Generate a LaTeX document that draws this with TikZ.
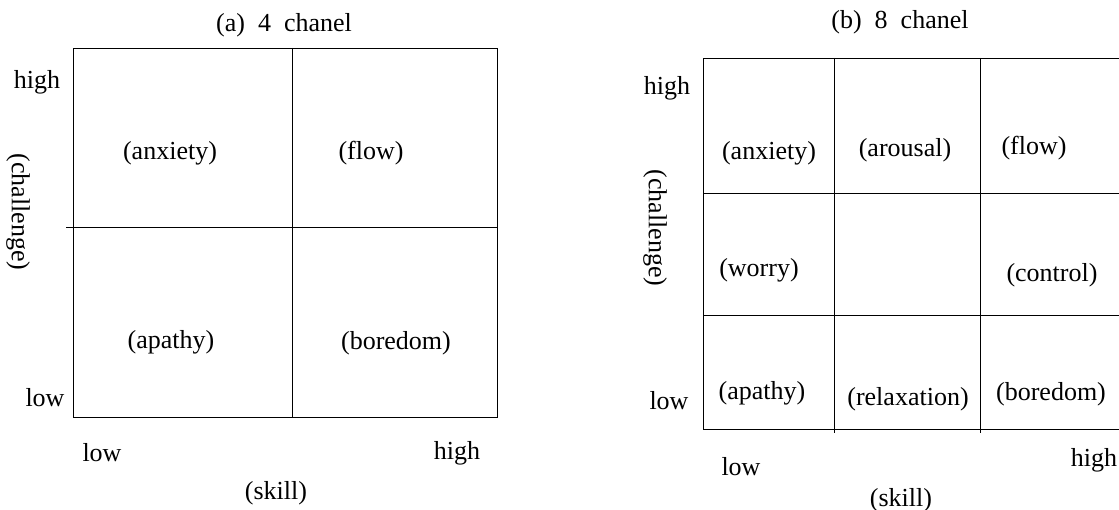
\documentclass[tikz,border=0pt]{standalone}
\usepackage{fontspec}
\setmainfont{Liberation Serif}
\begin{document}
\begin{tikzpicture}[x=1pt,y=-1pt,
  lbl/.style={inner sep=0pt,font=\fontsize{26}{29}\selectfont},
  gridline/.style={line width=0.9pt,black}]
\useasboundingbox (0,0) rectangle (1119,510);
% ---------- (a) 4 chanel ----------
\draw[gridline] (73,48) rectangle (497,417);
\draw[gridline] (292,48) -- (292,417);
\draw[gridline] (66,227) -- (497,227);
\node[lbl] (ta) at (284,25) {(a)\ \ 4\ \ chanel};
\node[lbl] (ahigh) at (37,82) {high};
\node[lbl] (alow) at (45,398) {low};
\node[lbl,rotate=-90] (achal) at (18,212) {(challenge)};
\node[lbl] (aanx) at (170,153) {(anxiety)};
\node[lbl] (aflow) at (371,153) {(flow)};
\node[lbl] (aapa) at (171,342) {(apathy)};
\node[lbl] (abor) at (396,343) {(boredom)};
\node[lbl] (axlow) at (102,453) {low};
\node[lbl] (axhigh) at (457,453) {high};
\node[lbl] (askill) at (276,493) {(skill)};
% ---------- (b) 8 chanel ----------
\draw[gridline] (1119,58) -- (703,58) -- (703,429) -- (1119,429);
\draw[gridline] (834,58) -- (834,433);
\draw[gridline] (980,58) -- (980,433);
\draw[gridline] (703,193) -- (1119,193);
\draw[gridline] (703,315) -- (1119,315);
\node[lbl] (tb) at (900,22) {(b)\ \ 8\ \ chanel};
\node[lbl] (bhigh) at (667,88) {high};
\node[lbl] (blow) at (669,401) {low};
\node[lbl,rotate=-90] (bchal) at (655,228) {(challenge)};
\node[lbl] (banx) at (769,153) {(anxiety)};
\node[lbl] (baro) at (905,150) {(arousal)};
\node[lbl] (bflow) at (1034,148) {(flow)};
\node[lbl] (bwor) at (759,270) {(worry)};
\node[lbl] (bcon) at (1052,275) {(control)};
\node[lbl] (bapa) at (762,393) {(apathy)};
\node[lbl] (brel) at (908,399) {(relaxation)};
\node[lbl] (bbor) at (1051,394) {(boredom)};
\node[lbl] (bxlow) at (741,467) {low};
\node[lbl] (bxhigh) at (1094,460) {high};
\node[lbl] (bskill) at (901,500) {(skill)};
\end{tikzpicture}
\end{document}
